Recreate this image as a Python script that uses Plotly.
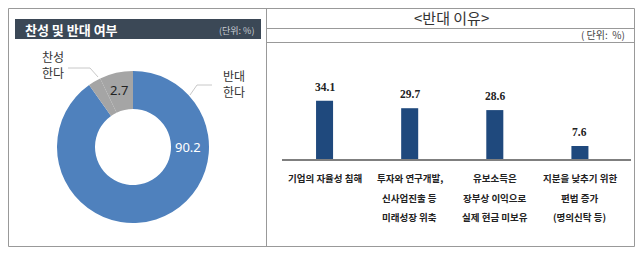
import plotly.graph_objects as go

W, H = 640, 255

# ---- data ----
pie_labels = ["반대한다", "찬성한다", "기타"]
pie_values = [90.2, 2.7, 7.1]
pie_colors = ["#4F81BD", "#A5A5A5", "#A5A5A5"]

bar_categories = ["기업의 자율성 침해",
                  "투자와 연구개발,|신사업진출 등|미래성장 위축",
                  "유보소득은|장부상 이익으로|실제 현금 미보유",
                  "지분을 낮추기 위한|편법 증가|(명의신탁 등)"]
bar_values = [34.1, 29.7, 28.6, 7.6]
bar_value_labels = ["34.1", "29.7", "28.6", "7.6"]


def px(x):
    return x / W


def py(y):
    return 1 - y / H


SANS = "Noto Sans CJK KR"
fig = go.Figure()

# donut
fig.add_trace(go.Pie(
    labels=pie_labels, values=pie_values, hole=0.5, sort=False,
    direction="clockwise", rotation=0,
    marker=dict(colors=pie_colors, line=dict(width=0)),
    textinfo="none", hoverinfo="skip", showlegend=False,
    domain=dict(x=[px(57), px(209)], y=[py(223), py(71)]),
))

# bars
xs = list(range(len(bar_values)))
fig.add_trace(go.Bar(
    x=xs, y=bar_values, width=0.2, marker=dict(color="#1F497D", line=dict(width=0)),
    showlegend=False, hoverinfo="skip",
))

fig.update_layout(
    width=W, height=H, margin=dict(l=0, r=0, t=0, b=0),
    paper_bgcolor="white", plot_bgcolor="rgba(0,0,0,0)",
    xaxis=dict(domain=[px(282), px(631)], range=[-0.5, 3.6], showticklabels=False,
               showgrid=False, zeroline=False, showline=True, linecolor="#7F7F7F",
               linewidth=1.5, ticks="", fixedrange=True),
    yaxis=dict(domain=[py(159), py(60)], range=[0, 99 / 1.71], showticklabels=False,
               showgrid=False, zeroline=False, showline=False, fixedrange=True),
)

shapes = []
border = dict(color="#999999", width=1)


def hline(y, x0, x1):
    shapes.append(dict(type="line", xref="paper", yref="paper", x0=px(x0), x1=px(x1),
                       y0=py(y), y1=py(y), line=border))


def vline(x, y0, y1):
    shapes.append(dict(type="line", xref="paper", yref="paper", x0=px(x), x1=px(x),
                       y0=py(y0), y1=py(y1), line=border))


# table borders
hline(8.5, 8.5, 634.5)
hline(246.5, 8.5, 634.5)
vline(8.5, 8.5, 246.5)
vline(634.5, 8.5, 246.5)
vline(266.5, 8.5, 246.5)
hline(28.5, 266.5, 634.5)
hline(42.5, 266.5, 634.5)
# left header bar
shapes.append(dict(type="rect", xref="paper", yref="paper", x0=px(15), x1=px(261),
                   y0=py(39), y1=py(19), fillcolor="#3B4856", line=dict(width=0),
                   layer="below"))
# leader lines
shapes.append(dict(type="path", xref="paper", yref="paper",
                   path=f"M {px(68)} {py(68)} L {px(90)} {py(68)} L {px(98)} {py(77)}",
                   line=dict(color="#C8C8C8", width=1)))
shapes.append(dict(type="path", xref="paper", yref="paper",
                   path=f"M {px(212)} {py(85)} L {px(197)} {py(85)} L {px(190)} {py(95)}",
                   line=dict(color="#C8C8C8", width=1)))
fig.update_layout(shapes=shapes)

ann = []
# left header
ann.append(dict(x=px(23), y=py(29), xref="paper", yref="paper", xanchor="left",
                yanchor="middle", showarrow=False, text="<b>찬성 및 반대 여부</b>",
                font=dict(family=SANS, size=13, color="white")))
ann.append(dict(x=px(256), y=py(30), xref="paper", yref="paper", xanchor="right",
                yanchor="middle", showarrow=False, text="(단위: %)",
                font=dict(family=SANS, size=9, color="#C9CED4")))
# donut labels
ann.append(dict(x=px(53), y=py(64), xref="paper", yref="paper", xanchor="center",
                yanchor="middle", showarrow=False, text="찬성<br>한다",
                font=dict(family=SANS, size=12, color="#333333")))
ann.append(dict(x=px(234), y=py(84), xref="paper", yref="paper", xanchor="center",
                yanchor="middle", showarrow=False, text="반대<br>한다",
                font=dict(family=SANS, size=12, color="#333333")))
ann.append(dict(x=px(119), y=py(90), xref="paper", yref="paper", xanchor="center",
                yanchor="middle", showarrow=False, text=f"{pie_values[1]}",
                font=dict(family="Noto Sans", size=13, color="#222222")))
ann.append(dict(x=px(188), y=py(147), xref="paper", yref="paper", xanchor="center",
                yanchor="middle", showarrow=False, text=f"{pie_values[0]}",
                font=dict(family="Noto Sans", size=13, color="white")))
# right title
ann.append(dict(x=px(451), y=py(18), xref="paper", yref="paper", xanchor="center",
                yanchor="middle", showarrow=False, text="&lt;반대 이유&gt;",
                font=dict(family=SANS, size=15, color="#333333")))
ann.append(dict(x=px(627), y=py(35), xref="paper", yref="paper", xanchor="right",
                yanchor="middle", showarrow=False, text="( 단위:  %)",
                font=dict(family=SANS, size=10, color="#444444")))
# bar value labels
for i, (v, t) in enumerate(zip(bar_values, bar_value_labels)):
    ann.append(dict(x=i, y=v, xref="x", yref="y", xanchor="center", yanchor="bottom",
                    yshift=6, showarrow=False, text=f"<b>{t}</b>",
                    font=dict(family="Liberation Serif", size=11.5, color="#222222")))
# category labels
for i, cat in enumerate(bar_categories):
    for j, line in enumerate(cat.split("|")):
        ann.append(dict(x=i, y=py(178 + 19.5 * j), xref="x", yref="paper",
                        xanchor="center", yanchor="middle", showarrow=False,
                        text=f"<b>{line}</b>",
                        font=dict(family=SANS, size=9.5, color="#222222")))
fig.update_layout(annotations=ann)

fig.write_html("out.html", config={"displayModeBar": False},
               post_script="document.body.style.margin='0px';")
